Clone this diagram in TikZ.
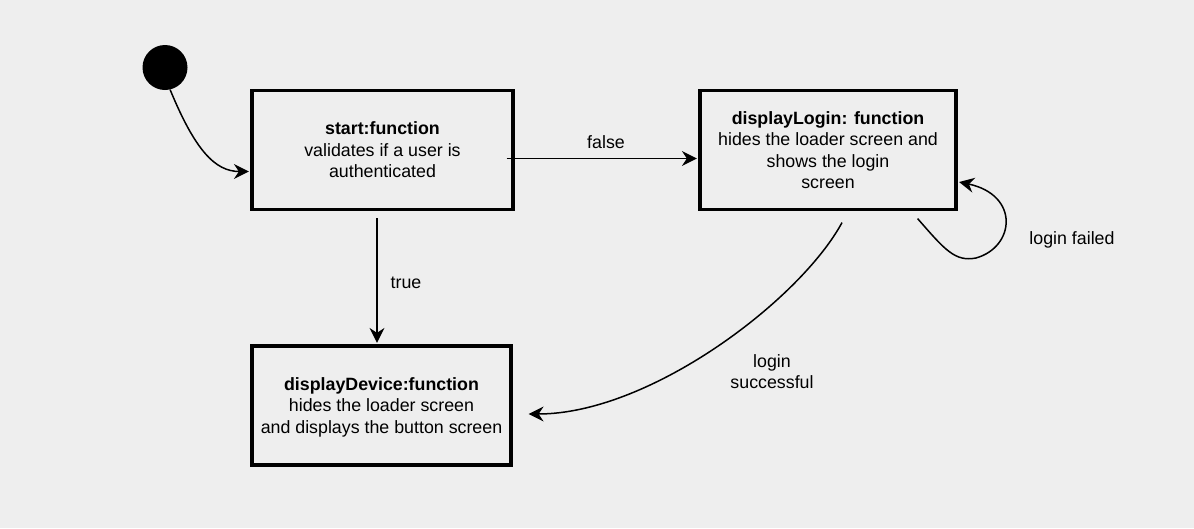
\documentclass[tikz,border=0pt]{standalone}
\usepackage{fontspec}
\setmainfont{Liberation Sans}
\usetikzlibrary{arrows.meta}
\definecolor{bg}{HTML}{EEEEEE}
\begin{document}
\begin{tikzpicture}[x=1pt,y=-1pt,
  statebox/.style={draw=black, line width=3.2pt, rectangle, align=center, inner sep=0pt,
    text depth=0pt, font=\fontsize{17.8}{21.5}\selectfont},
  conn/.style={line width=1.5pt, -{Stealth[length=15pt,width=15pt,inset=5pt]}},
  lbl/.style={font=\fontsize{17.8}{21.5}\selectfont, align=center, inner sep=0pt}]
\fill[bg] (0,0) rectangle (1194,528);
\useasboundingbox (0,0) rectangle (1194,528);

\node[circle, fill=black, minimum size=45pt, inner sep=0pt] (init) at (165,67.5) {};

\node[statebox, minimum width=261pt, minimum height=119pt] (start) at (382.5,150)
  {\textbf{start:function}\\validates if a user is\\authenticated};
\node[statebox, minimum width=256pt, minimum height=119pt] (login) at (828,150)
  {\textbf{displayLogin: function}\\hides the loader screen and\\shows the login\\screen};
\node[statebox, minimum width=259pt, minimum height=119pt] (device) at (381.5,405.5)
  {\textbf{displayDevice:function}\\hides the loader screen\\and displays the button screen};

\draw[conn] (init.-77) .. controls (195,150) and (215,171.5) .. ([xshift=-1.5pt,yshift=-21.5pt]start.west);
\draw[conn] ([xshift=-8pt,yshift=-8.5pt]start.east) -- ([xshift=-1.5pt,yshift=-8.5pt]login.west);
\draw[conn] ([xshift=-5.5pt,yshift=-7pt]start.south) -- ([xshift=-4.5pt,yshift=1.5pt]device.north);
\draw[conn] ([xshift=14pt,yshift=-11.5pt]login.south) .. controls (800,300) and (650,414) .. ([xshift=16pt,yshift=-8.5pt]device.east);
\draw[conn] ([xshift=-40pt,yshift=-7.5pt]login.south east) .. controls (945,250) and (955,262) .. (976,258)
  .. controls (1015,247) and (1020,195) .. ([xshift=1.5pt,yshift=-32pt]login.east);

\node[lbl] (lfalse) at (606,142) {false};
\node[lbl] (ltrue) at (406,283) {true};
\node[lbl] (lsucc) at (772,371.5) {login\\successful};
\node[lbl] (lfail) at (1072,240) {login failed};
\end{tikzpicture}
\end{document}
